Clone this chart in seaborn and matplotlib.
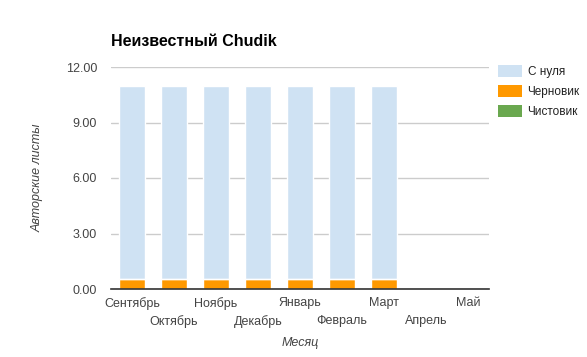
import matplotlib.pyplot as plt
import seaborn as sns
import pandas as pd
from matplotlib.patches import Patch

months = ['Сентябрь', 'Октябрь', 'Ноябрь', 'Декабрь', 'Январь',
          'Февраль', 'Март', 'Апрель', 'Май']
s_nulya = [10.45, 10.45, 10.45, 10.45, 10.45, 10.45, 10.45, 0, 0]
chernovik = [0.55, 0.55, 0.55, 0.55, 0.55, 0.55, 0.55, 0, 0]
chistovik = [0, 0, 0, 0, 0, 0, 0, 0, 0]
y_ticks = [0, 3, 6, 9, 12]

series_names = ['С нуля', 'Черновик', 'Чистовик']
colors = ['#cfe2f3', '#ff9900', '#6aa84f']

df = pd.DataFrame({'month': months, 's_nulya': s_nulya,
                   'chernovik': chernovik, 'chistovik': chistovik})
# stacked: orange at bottom, blue on top
df['total'] = df['chernovik'] + df['s_nulya'] + df['chistovik']
df['low'] = df['chernovik']

sns.set_style('white')
plt.rcParams['font.family'] = ['Liberation Sans', 'DejaVu Sans']

fig = plt.figure(figsize=(5.87, 3.57), dpi=100)
ax = fig.add_axes([111 / 587, (357 - 289) / 357, 378 / 587, 222 / 357])

sns.barplot(data=df, x='month', y='total', color=colors[0], width=0.62,
            saturation=1, ax=ax, zorder=2)
sns.barplot(data=df, x='month', y='low', color=colors[1], width=0.62,
            saturation=1, ax=ax, zorder=3)
# thin white separator between stacked segments
ax.hlines(df['low'][df['low'] > 0], [i - 0.31 for i in range(7)],
          [i + 0.31 for i in range(7)], color='white', linewidth=1, zorder=4)

ax.set_ylim(0, 12)
ax.set_xlim(-0.5, len(months) - 0.5)
ax.set_yticks(y_ticks)
ax.set_yticklabels([f'{v:.2f}' for v in y_ticks])
ax.grid(axis='y', color='#cccccc', linewidth=1, zorder=0)
ax.set_axisbelow(True)
for sp in ['top', 'right', 'left']:
    ax.spines[sp].set_visible(False)
ax.spines['bottom'].set_color('#333333')
ax.spines['bottom'].set_linewidth(1.2)
ax.spines['bottom'].set_zorder(5)

ax.tick_params(axis='both', length=0, labelsize=9, labelcolor='#444444')
ax.tick_params(axis='y', pad=10)
# staggered month labels
for i, tick in enumerate(ax.xaxis.get_major_ticks()):
    tick.set_pad(6 if i % 2 == 0 else 19)

ax.set_xlabel('Месяц', fontsize=9, style='italic', color='#444444', labelpad=6)
ax.set_ylabel('Авторские листы', fontsize=9, style='italic', color='#444444', labelpad=16)

fig.text(111 / 587, 1 - 42 / 357, 'Неизвестный Chudik', fontsize=11.5,
         fontweight='bold', color='#000000', va='center', ha='left')

handles = [Patch(facecolor=c, edgecolor='none') for c in colors]
fig.legend(handles, series_names, loc='upper left', bbox_to_anchor=(498 / 587, 1 - 65 / 357),
           frameon=False, fontsize=8.5, handlelength=2.05, handleheight=1.2,
           labelspacing=0.58, handletextpad=0.45, borderpad=0, borderaxespad=0,
           labelcolor='#222222')

fig.savefig('out.png', dpi=100)
